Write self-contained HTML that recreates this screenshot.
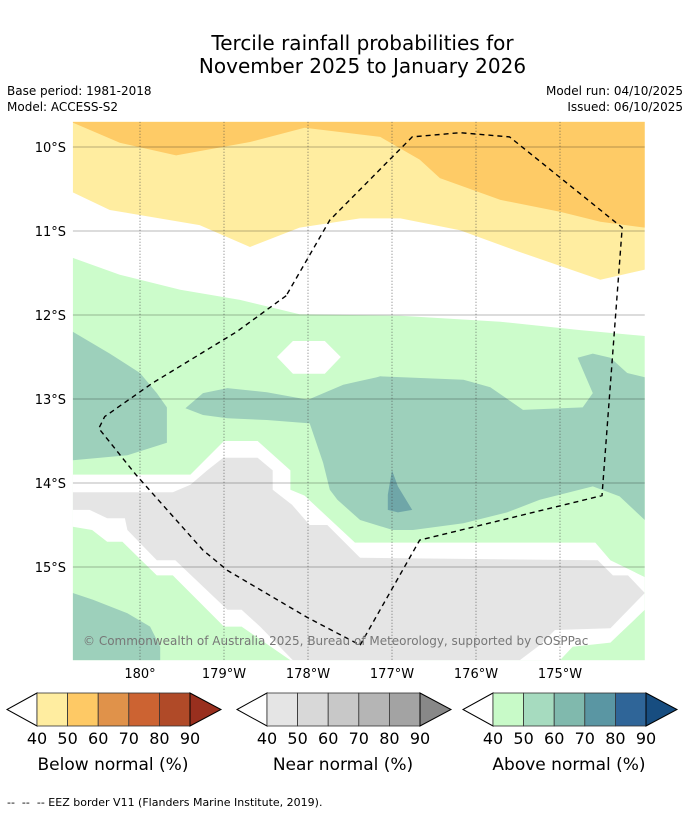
<!DOCTYPE html>
<html><head><meta charset="utf-8">
<style>
html,body{margin:0;padding:0;background:#fff;}
body{width:690px;height:816px;position:relative;overflow:hidden;font-family:"DejaVu Sans","Liberation Sans",sans-serif;color:#000;}
.t{position:absolute;white-space:nowrap;}
</style></head><body>
<div class="t" style="left:0;width:725px;text-align:center;top:32px;font-size:20px;line-height:23px;">Tercile rainfall probabilities for<br>November 2025 to January 2026</div>
<div class="t" style="left:7px;top:84px;font-size:12px;">Base period: 1981-2018</div>
<div class="t" style="left:7px;top:100px;font-size:12px;">Model: ACCESS-S2</div>
<div class="t" style="right:7px;top:84px;font-size:12px;">Model run: 04/10/2025</div>
<div class="t" style="right:7px;top:100px;font-size:12px;">Issued: 06/10/2025</div>

<svg id="map" width="690" height="816" style="position:absolute;left:0;top:0;font-family:'DejaVu Sans',sans-serif;" xmlns="http://www.w3.org/2000/svg"></svg>

<div class="t" style="left:7px;top:796px;font-size:11px;">--&nbsp; --&nbsp; -- EEZ border V11 (Flanders Marine Institute, 2019).</div>

<script>
// ---- data (lon in degrees east, lat in degrees south) ----
const latTicks = [10, 11, 12, 13, 14, 15];
const latLabels = ["10°S","11°S","12°S","13°S","14°S","15°S"];
const lonTicks = [180, 181, 182, 183, 184, 185];
const lonLabels = ["180°","179°W","178°W","177°W","176°W","175°W"];
const extent = [179.20, 186.01, 9.70, 16.11];

const yellowRegion = [[179.20,9.70],[186.01,9.70],[186.01,11.46],[185.48,11.58],[184.52,11.25],[183.81,10.99],[183.10,10.85],[182.62,10.85],[181.90,10.96],[181.31,11.19],[180.71,10.93],[179.64,10.75],[179.20,10.54]];
const orangeRegion = [[179.20,9.70],[179.20,9.71],[179.76,9.95],[180.43,10.10],[181.31,9.94],[181.96,9.77],[182.86,9.88],[183.33,10.15],[183.57,10.37],[184.29,10.63],[185.00,10.77],[185.48,10.89],[186.01,10.96],[186.01,9.70]];
const greenRegion = [[179.20,11.32],[179.76,11.52],[180.48,11.70],[181.19,11.82],[181.90,11.99],[183.10,12.01],[184.29,12.08],[185.24,12.18],[186.01,12.25],[186.01,16.11],[179.20,16.11]];
const whiteHexRegion = [[181.63,12.50],[181.82,12.31],[182.20,12.31],[182.39,12.50],[182.20,12.70],[181.82,12.70]];
const nearWhiteRegion = [[179.20,13.90],[180.60,13.90],[181.00,13.50],[181.40,13.50],[181.79,13.85],[181.79,14.08],[181.96,14.15],[182.14,14.32],[182.56,14.71],[185.42,14.71],[185.60,14.92],[186.01,15.12],[186.01,16.11],[179.20,16.11]];
const grayRegion = [[179.20,14.11],[180.39,14.11],[180.60,14.02],[180.80,13.85],[180.99,13.70],[181.40,13.70],[181.58,13.85],[181.58,14.08],[181.81,14.26],[182.02,14.50],[182.23,14.50],[182.62,14.89],[185.45,14.92],[185.63,15.10],[185.81,15.10],[186.01,15.31],[185.60,15.73],[184.94,15.75],[184.76,15.93],[184.52,16.11],[181.82,16.11],[181.43,15.71],[181.21,15.51],[181.04,15.51],[180.42,14.92],[180.20,14.92],[179.85,14.56],[179.82,14.42],[179.61,14.42],[179.40,14.32],[179.20,14.32]];
const greenSWRegion = [[179.20,14.52],[179.43,14.56],[179.61,14.70],[179.79,14.70],[180.20,15.10],[180.39,15.10],[181.00,15.71],[181.21,15.71],[181.79,16.11],[179.20,16.11]];
const greenSERegion = [[185.00,16.11],[185.15,15.95],[185.60,15.90],[186.01,15.51],[186.01,16.11]];
const tealWRegion = [[179.20,12.20],[179.64,12.46],[180.00,12.69],[180.20,12.93],[180.32,13.10],[180.32,13.52],[179.85,13.67],[179.20,13.73]];
const tealCRegion = [[180.54,13.11],[180.75,12.93],[181.04,12.87],[181.51,12.92],[182.00,13.01],[182.42,12.83],[182.82,12.74],[182.86,12.73],[183.85,12.77],[184.17,12.86],[184.56,13.13],[185.27,13.10],[185.39,12.93],[185.21,12.51],[185.39,12.46],[185.60,12.51],[185.80,12.69],[186.01,12.74],[186.01,14.44],[185.71,14.16],[185.39,14.04],[184.76,14.20],[184.37,14.35],[183.85,14.48],[183.25,14.56],[183.01,14.56],[182.62,14.44],[182.35,14.20],[182.26,14.08],[182.18,13.76],[182.02,13.29],[181.51,13.25],[181.04,13.23],[180.75,13.19]];
const tealSWRegion = [[179.20,15.31],[179.44,15.39],[179.85,15.55],[180.12,15.71],[180.24,15.95],[180.24,16.11],[179.20,16.11]];
const darkTealRegion = [[182.95,14.14],[183.00,13.85],[183.07,14.04],[183.24,14.32],[183.07,14.35],[182.95,14.32]];
const eezBorder = [[181.74,11.77],[181.15,12.20],[180.15,12.81],[179.58,13.21],[179.51,13.35],[179.95,13.90],[180.75,14.80],[181.04,15.04],[181.99,15.60],[182.62,15.93]];
const eezBorder2 = [[182.62,15.93],[183.33,14.68],[185.50,14.15],[185.74,10.96],[184.40,9.88],[183.81,9.83],[183.24,9.88],[182.26,10.87],[181.74,11.77]];

const NS = "http://www.w3.org/2000/svg";
const svg = document.getElementById("map");
const X0 = 140, Y0 = 147, S = 84;
function lonToX(lon){ return X0 + (lon - 180) * S; }
function latToY(lat){ return Y0 + (lat - 10) * S; }
function pathFrom(pts, close){
  return pts.map((p,i)=>(i?"L":"M")+lonToX(p[0]).toFixed(1)+" "+latToY(p[1]).toFixed(1)).join(" ")+(close?" Z":"");
}
const clip = document.createElementNS(NS,"clipPath");
clip.setAttribute("id","mapclip");
const cr = document.createElementNS(NS,"rect");
cr.setAttribute("x",lonToX(extent[0]));cr.setAttribute("y",latToY(extent[2]));
cr.setAttribute("width",lonToX(extent[1])-lonToX(extent[0]));cr.setAttribute("height",latToY(extent[3])-latToY(extent[2]));
clip.appendChild(cr);svg.appendChild(clip);
const g = document.createElementNS(NS,"g");
g.setAttribute("clip-path","url(#mapclip)");


svg.appendChild(g);

function region(pts, fill, name){
  const p = document.createElementNS(NS,"path");
  p.setAttribute("d", pathFrom(pts,true));
  p.setAttribute("fill", fill);
  
  
  g.appendChild(p);
}
region(yellowRegion,"#ffeda0","below-normal-40-50");
region(orangeRegion,"#fecb66","below-normal-50-60");
region(greenRegion,"#ccfccb","above-normal-40-50");
region(whiteHexRegion,"#ffffff","no-signal-patch");
region(nearWhiteRegion,"#ffffff","no-signal-band");
region(grayRegion,"#e5e5e5","near-normal-40-50");
region(greenSWRegion,"#ccfccb","above-normal-40-50-sw");
region(greenSERegion,"#ccfccb","above-normal-40-50-se");
region(tealWRegion,"#9dd0bb","above-normal-50-60-west");
region(tealCRegion,"#9dd0bb","above-normal-50-60-central");
region(tealSWRegion,"#9dd0bb","above-normal-50-60-sw");
region(darkTealRegion,"#6fa6a8","above-normal-60-70");

latTicks.forEach((lat,i)=>{
  const l = document.createElementNS(NS,"line");
  l.setAttribute("x1",lonToX(extent[0]));l.setAttribute("x2",lonToX(extent[1]));
  l.setAttribute("y1",latToY(lat));l.setAttribute("y2",latToY(lat));
  l.setAttribute("stroke","#000");l.setAttribute("stroke-opacity","0.28");l.setAttribute("stroke-width","1");
  
  
  g.appendChild(l);
  const t = document.createElementNS(NS,"text");
  t.setAttribute("x",66);t.setAttribute("y",latToY(lat)+5);t.setAttribute("text-anchor","end");
  t.setAttribute("font-size","13");t.textContent = latLabels[i];
  
  
  svg.appendChild(t);
});
lonTicks.forEach((lon,i)=>{
  const l = document.createElementNS(NS,"line");
  l.setAttribute("x1",lonToX(lon));l.setAttribute("x2",lonToX(lon));
  l.setAttribute("y1",latToY(extent[2]));l.setAttribute("y2",latToY(extent[3]));
  l.setAttribute("stroke","#444");l.setAttribute("stroke-opacity","0.7");l.setAttribute("stroke-width","1");l.setAttribute("stroke-dasharray","1 2");
  
  
  g.appendChild(l);
  const t = document.createElementNS(NS,"text");
  t.setAttribute("x",lonToX(lon));t.setAttribute("y",678);t.setAttribute("text-anchor","middle");
  t.setAttribute("font-size","13");t.textContent = lonLabels[i];
  
  
  svg.appendChild(t);
});

[eezBorder, eezBorder2].forEach(b=>{
  const p = document.createElementNS(NS,"path");
  p.setAttribute("d", pathFrom(b,false));
  p.setAttribute("fill","none");p.setAttribute("stroke","#000");p.setAttribute("stroke-width","1.4");p.setAttribute("stroke-dasharray","5 4");
  
  
  g.appendChild(p);
});

const ct = document.createElementNS(NS,"text");
ct.setAttribute("x",83);ct.setAttribute("y",645);ct.setAttribute("font-size","12");ct.setAttribute("fill","#777");
ct.textContent = "© Commonwealth of Australia 2025, Bureau of Meteorology, supported by COSPPac";


svg.appendChild(ct);

const cbTicks = ["40","50","60","70","80","90"];
const cbBelow = ["#ffeda0","#fec965","#e0924a","#cc6332","#b04a28","#992f1e"];
const cbNear = ["#e5e5e5","#d8d8d8","#c8c8c8","#b5b5b5","#a3a3a3","#888888"];
const cbAbove = ["#c8fac8","#a6dbbf","#80b9ad","#5a96a3","#2f6598","#174d80"];
const cbTitles = ["Below normal (%)","Near normal (%)","Above normal (%)"];
const cbLeft = [37, 267, 493];
[cbBelow, cbNear, cbAbove].forEach((cols, k)=>{
  const x0 = cbLeft[k], w = 153/5, yT = 693, yB = 726, ym = (yT+yB)/2;
  const gg = document.createElementNS(NS,"g");
  
  
  svg.appendChild(gg);
  const lt = document.createElementNS(NS,"path");
  lt.setAttribute("d",`M${x0} ${yT} L${x0-30} ${ym} L${x0} ${yB} Z`);
  lt.setAttribute("fill","#fff");lt.setAttribute("stroke","#000");lt.setAttribute("stroke-width","1");
  gg.appendChild(lt);
  for(let i=0;i<5;i++){
    const r = document.createElementNS(NS,"rect");
    r.setAttribute("x",x0+i*w);r.setAttribute("y",yT);r.setAttribute("width",w);r.setAttribute("height",yB-yT);
    r.setAttribute("fill",cols[i]);r.setAttribute("stroke","#333");r.setAttribute("stroke-width","0.8");
    gg.appendChild(r);
  }
  const rt = document.createElementNS(NS,"path");
  const x1 = x0+153;
  rt.setAttribute("d",`M${x1} ${yT} L${x1+31} ${ym} L${x1} ${yB} Z`);
  rt.setAttribute("fill",cols[5]);rt.setAttribute("stroke","#000");rt.setAttribute("stroke-width","1");
  gg.appendChild(rt);
  cbTicks.forEach((tk,i)=>{
    const t = document.createElementNS(NS,"text");
    t.setAttribute("x",x0+i*w);t.setAttribute("y",744);t.setAttribute("text-anchor","middle");t.setAttribute("font-size","16");
    t.textContent = tk;
    
    
    gg.appendChild(t);
  });
  const tt = document.createElementNS(NS,"text");
  tt.setAttribute("x",x0+76);tt.setAttribute("y",770);tt.setAttribute("text-anchor","middle");tt.setAttribute("font-size","17");
  tt.textContent = cbTitles[k];
  
  
  gg.appendChild(tt);
});
</script>
</body></html>
